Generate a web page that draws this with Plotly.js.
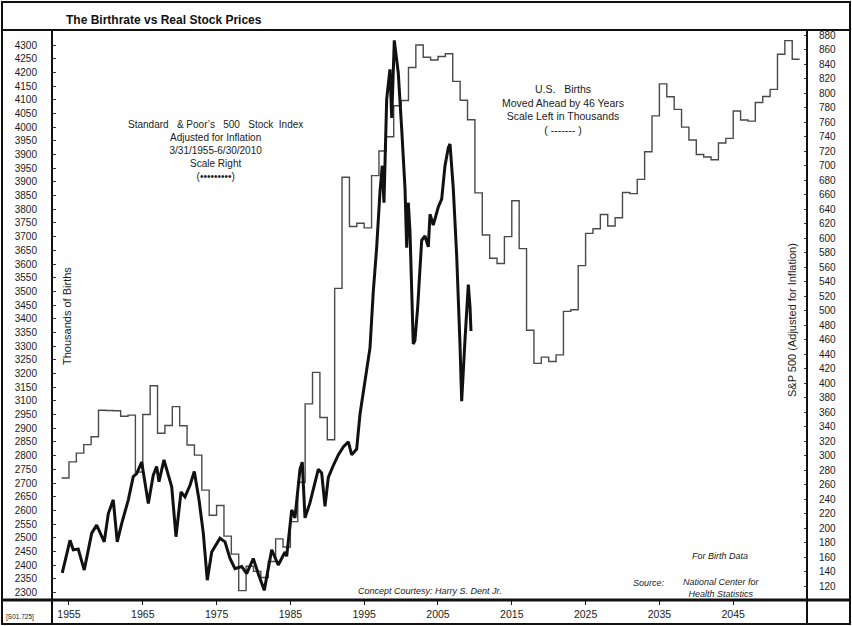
<!DOCTYPE html>
<html>
<head>
<meta charset="utf-8">
<script src="https://cdn.plot.ly/plotly-3.0.1.min.js"></script>
<style>html,body{margin:0;padding:0;background:#fff;}#chart{width:852px;height:626px;}</style>
</head>
<body>
<div id="chart"></div>
<script>
// ---------------- DATA ----------------
// U.S. births (thousands), birth years 1909..2008, plotted 46 years ahead (step per year)
const birthFirstYear = 1909;
const births = [
  2718,2777,2809,2840,2869,2966,2965,2964,2944,2948,
  2740,2950,3055,2882,2910,2979,2909,2839,2802,2674,
  2582,2618,2506,2440,2307,2396,2377,2355,2413,2496,
  2466,2559,2703,2989,3104,2939,2858,3411,3817,3637,
  3649,3632,3823,3913,3965,4078,4097,4218,4300,4255,
  4245,4258,4268,4167,4098,4027,3760,3606,3521,3502,
  3600,3731,3556,3258,3137,3160,3144,3168,3327,3333,
  3494,3612,3629,3681,3639,3669,3761,3757,3809,3910,
  4041,4158,4111,4065,4000,3953,3900,3891,3881,3942,
  3959,4059,4026,4022,4090,4112,4138,4266,4316,4248
];
const birthShift = 45; // as drawn on the chart's year axis

// S&P 500 adjusted for inflation (scale right), positions on the chart's year axis
const stockYear = [
  1954.09,1955.14,1955.58,1956.26,1957.07,1958.08,1958.75,1959.20,1959.78,1960.33,
  1961.00,1961.54,1962.14,1963.04,1963.71,1964.17,1964.85,1965.75,1966.42,1966.88,
  1967.20,1967.87,1968.92,1969.50,1970.18,1970.72,1971.40,1971.98,1972.62,1973.20,
  1973.74,1974.34,1974.78,1975.46,1976.14,1976.82,1977.49,1978.40,1979.08,1979.97,
  1980.65,1981.46,1982.47,1983.36,1984.27,1984.50,1985.18,1985.62,1986.30,1986.61,
  1986.98,1987.66,1988.78,1989.24,1989.69,1990.14,1990.81,1991.49,1992.17,1992.85,
  1993.31,1993.98,1994.43,1995.11,1995.79,1996.23,1996.69,1997.14,1997.45,1997.68,
  1998.05,1998.49,1998.73,1999.08,1999.62,2000.08,2000.53,2000.76,2000.98,2001.21,
  2001.44,2001.65,2001.88,2002.25,2002.79,2003.24,2003.69,2003.92,2004.36,2005.04,
  2005.50,2005.95,2006.40,2006.63,2007.07,2007.53,2007.98,2008.21,2008.66,2009.11,
  2009.34,2009.47
];
const stockValue = [
  138,183,170,171,142,193,204,193,181,220,
  239,181,206,239,271,275,291,234,273,285,
  264,294,257,188,250,243,259,278,239,193,
  128,167,174,186,181,158,144,147,137,158,
  137,114,170,149,167,161,225,214,281,291,
  214,235,281,276,230,270,286,301,312,319,
  301,309,357,403,449,526,587,664,700,649,
  792,833,766,873,828,751,669,587,649,608,
  537,454,459,505,597,603,588,633,618,643,
  654,700,725,730,669,577,454,375,460,536,
  505,472
];

// Tick labels as printed on the chart
const xTickLabels = ["1955","1965","1975","1985","1995","2005","2015","2025","2035","2045"];
const leftTickLabels = [ // bottom to top
  "2300","2350","2400","2450","2500","2550","2600","2650","2700","2750",
  "2800","2850","2900","2950","3100","3150","3200","3250","3300","3350",
  "3400","3450","3500","3550","3600","3650","3700","3750","3800","3850",
  "3900","3950","3900","3950","4000","4050","4100","4150","4200","4250","4300"
];

// ---------------- BUILD ----------------
const bx = births.map((v,i) => birthFirstYear + i + birthShift);
const by = births.slice();
bx.push(birthFirstYear + births.length + birthShift);
by.push(births[births.length-1]);

const leftTickVals = leftTickLabels.map((_,i) => 2300 + 50*i);
const xTickVals = xTickLabels.map(Number);

const FONT = 'Liberation Sans, Arial, Helvetica, sans-serif';
const L=52, R=807, T=30, B=600;
const px = x => (x-L)/(R-L);
const py = y => (B-y)/(B-T);

function ann(x, y, text, size, extra) {
  return Object.assign({
    xref:'paper', yref:'paper', x:px(x), y:py(y), text:text, showarrow:false,
    xanchor:'center', yanchor:'middle',
    font:{family:FONT, size:size, color:'#1a1a1a'}
  }, extra||{});
}
function line(x0,y0,x1,y1,w){
  return {type:'line', xref:'paper', yref:'paper', x0:px(x0), y0:py(y0), x1:px(x1), y1:py(y1),
          line:{color:'#111', width:w}};
}

const sp = '\u00a0';
const traces = [
  {x:bx, y:by, type:'scatter', mode:'lines', line:{color:'#4a4a4a', width:1.4, shape:'hv'},
   yaxis:'y', hoverinfo:'skip', showlegend:false},
  {x:stockYear, y:stockValue, type:'scatter', mode:'lines', line:{color:'#111', width:3},
   yaxis:'y2', hoverinfo:'skip', showlegend:false}
];

const layout = {
  width:852, height:626,
  margin:{l:L, r:852-R, t:T, b:626-B, pad:0},
  paper_bgcolor:'#fff', plot_bgcolor:'#fff',
  font:{family:FONT, color:'#1a1a1a'},
  title:{text:'<b>The Birthrate vs Real Stock Prices</b>', xref:'container', yref:'container',
         x:66/852, xanchor:'left', y:1-20/626, yanchor:'middle',
         font:{family:FONT, size:12, color:'#111'}},
  xaxis:{range:[1952.7, 2055.0], tickmode:'array', tickvals:xTickVals, ticktext:xTickLabels,
         ticks:'outside', ticklen:4, tickwidth:1, tickcolor:'#111', showgrid:false, zeroline:false,
         showline:false, tickfont:{family:FONT, size:10.5, color:'#1a1a1a'}, fixedrange:true},
  yaxis:{range:[2272.6, 4354.8], tickmode:'array', tickvals:leftTickVals, ticktext:leftTickLabels,
         ticks:'inside', ticklen:4, tickwidth:1, tickcolor:'#333', showgrid:false, zeroline:false,
         showline:false, ticklabelstandoff:14, tickfont:{family:FONT, size:10, color:'#1a1a1a'}},
  yaxis2:{range:[100.7, 887.3], overlaying:'y', side:'right', tick0:0, dtick:20,
         ticks:'inside', ticklen:3, tickwidth:1, tickcolor:'#333', showgrid:false, zeroline:false,
         showline:false, ticklabelstandoff:11, tickfont:{family:FONT, size:10, color:'#1a1a1a'}},
  shapes:[
    {type:'rect', xref:'paper', yref:'paper', x0:px(2), y0:py(624), x1:px(850), y1:py(2),
     line:{color:'#111', width:2}},
    line(2,30,850,30,2),
    line(2,600,850,600,3),
    line(52,30,52,624,2),
    line(807,30,807,624,2)
  ],
  annotations:[
    ann(215,150,'Standard'+sp+sp+sp+'&'+sp+'Poor\u2019s'+sp+sp+sp+'500'+sp+sp+sp+'Stock'+sp+sp+'Index<br>Adjusted for Inflation<br>3/31/1955-6/30/2010<br>Scale Right<br>(\u2022\u2022\u2022\u2022\u2022\u2022\u2022\u2022\u2022)',10),
    ann(563,109.5,'U.S.'+sp+sp+sp+'Births<br>Moved Ahead by 46 Years<br>Scale Left in Thousands<br>('+sp+'-------'+sp+')',10.5),
    ann(67,316,'Thousands of Births',11,{textangle:-90}),
    ann(792,320,'S&P 500 (Adjusted for Inflation)',11,{textangle:-90}),
    ann(430,590.5,'<i>Concept Courtesy: Harry S. Dent Jr.</i>',9),
    ann(720,555.5,'<i>For Birth Data</i>',9),
    ann(649,582.5,'<i>Source:</i>',9),
    ann(721,587.5,'<i>National Center for<br>Health Statistics</i>',9),
    ann(20,617,'[S01.725]',6.5)
  ]
};

Plotly.newPlot('chart', traces, layout, {displayModeBar:false, staticPlot:true});
</script>
</body>
</html>
